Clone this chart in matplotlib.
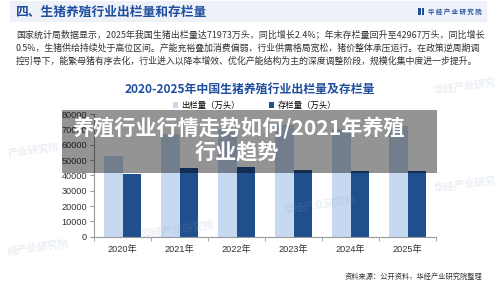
import matplotlib.pyplot as plt
from matplotlib.patches import Rectangle
import numpy as np

plt.rcParams['font.family'] = ['Noto Sans CJK SC', 'DejaVu Sans']

# Datos del gráfico
years = ['2020年', '2021年', '2022年', '2023年', '2024年', '2025年']
chulan = [52704, 67128, 69995, 72662, 70256, 71973]   # 出栏量（万头）
cunlan = [40650, 44922, 45256, 43422, 42743, 42967]   # 存栏量（万头）
yticks = [0, 10000, 20000, 30000, 40000, 50000, 60000, 70000, 80000]

header = '四、生猪养殖行业出栏量和存栏量'
para = [
    '国家统计局数据显示，2025年我国生猪出栏量达71973万头，同比增长2.4%；年末存栏量回升至42967万头，同比增长',
    '0.5%，生猪供给持续处于高位区间。产能充裕叠加消费偏弱，行业供需格局宽松，猪价整体承压运行。在政策逆周期调',
    '控引导下，能繁母猪有序去化，行业进入以降本增效、优化产能结构为主的深度调整阶段，规模化集中度进一步提升。',
]
chart_title = '2020-2025年中国生猪养殖行业出栏量及存栏量'
source = '资料来源：公开资料，华经产业研究院整理'
overlay = ['养殖行业行情走势如何/2021年养殖', '行业趋势']

light = '#c6d9f1'
dark = '#1f4f8d'
blue = '#1f4e9e'

W, H = 500, 283
fig = plt.figure(figsize=(5, 2.83), dpi=100)
fig.patch.set_facecolor('white')


def px(x, y):
    return x / W, 1 - y / H


def fit_width(t, target):
    # ajustar el tamaño de letra al ancho medido en la referencia
    r = fig.canvas.get_renderer()
    w = t.get_window_extent(r).width
    t.set_fontsize(t.get_fontsize() * target / w)


# Cabecera
fig.patches.append(Rectangle(px(10, 22), 477 / W, 21 / H, transform=fig.transFigure,
                             facecolor='#eef2f8', edgecolor='none', zorder=0))
fig.text(*px(15, 12), header, fontsize=9.2, fontweight='bold', color=blue, va='center')
fig.patches.append(Rectangle(px(418, 15), 3 / W, 7 / H, transform=fig.transFigure,
                             facecolor=blue, edgecolor='none'))
fig.patches.append(Rectangle(px(422, 15), 2 / W, 7 / H, transform=fig.transFigure,
                             facecolor=blue, edgecolor='none'))
fig.text(*px(428, 11.5), '华 经 产 业 研 究 院', fontsize=4.6, fontweight='bold',
         color=blue, va='center')

for i, line in enumerate(para):
    t = fig.text(*px(16, 35 + 13.3 * i), line, fontsize=6.4, color='#333333', va='center')
    fit_width(t, 466 if i < 2 else 464)

fig.text(*px(250, 89), chart_title, fontsize=8.6, fontweight='bold', color=blue,
         ha='center', va='center')

# Marcas de agua
for (x, y, s) in [(34, 150, '产业研究院'), (465, 86, '华经产业研究'), (38, 247, '经产业研究院'),
                  (178, 230, '华经产业研究院'), (465, 184, '华经产业研究'), (320, 205, '华经产业研究院')]:
    fig.text(*px(x, y), s, fontsize=7.5, fontweight='bold', color='#8aa0c0', alpha=0.18,
             ha='center', va='center', rotation=8)

ax = fig.add_axes([94 / W, 1 - 236.7 / H, 342 / W, 122.7 / H])
x = np.arange(len(years))
bw = 0.33
ax.bar(x - bw / 2, chulan, bw, color=light, label='出栏量（万头）', zorder=2)
ax.bar(x + bw / 2, cunlan, bw, color=dark, label='存栏量（万头）', zorder=2)
ax.set_xlim(-0.5, len(years) - 0.5)
ax.set_ylim(0, 80000)
ax.set_yticks(yticks)
ax.set_yticklabels([str(v) for v in yticks], family=['Liberation Sans', 'DejaVu Sans'],
                   fontsize=6.6, color='#333333')
ax.set_xticks(x)
ax.set_xticklabels(years, fontsize=6.6, color='#333333',
                   family=['Liberation Sans', 'Noto Sans CJK SC'])
ax.set_xticks(np.arange(-0.5, len(years)), minor=True)
ax.tick_params(axis='x', which='major', length=0, pad=6)
ax.tick_params(axis='x', which='minor', length=3, color='#999999')
ax.tick_params(axis='y', length=3, color='#999999', pad=2)
ax.set_facecolor('none')
for s in ['top', 'right']:
    ax.spines[s].set_visible(False)
for s in ['left', 'bottom']:
    ax.spines[s].set_color('#999999')
    ax.spines[s].set_linewidth(0.8)

ax.legend(loc='lower center', bbox_to_anchor=(0.47, 1.0), ncol=2, frameon=False,
          fontsize=6, handlelength=0.6, handleheight=0.6, columnspacing=3.5,
          handletextpad=0.4, borderaxespad=0.1)

fig.text(*px(482, 277), source, fontsize=5.2, color='#333333', ha='right', va='center')

# Superposición gris con título
fig.patches.append(Rectangle(px(62, 172.5), 375 / W, 62.5 / H, transform=fig.transFigure,
                             facecolor='black', alpha=0.42, edgecolor='none', zorder=5))
t1 = fig.text(*px(238.5, 128), overlay[0], fontsize=15, fontweight='bold', color='white',
              ha='center', va='center', zorder=6)
fit_width(t1, 333)
fig.text(*px(237, 152), overlay[1], fontsize=t1.get_fontsize(), fontweight='bold',
         color='white', ha='center', va='center', zorder=6)

fig.savefig('out.png', dpi=100)
